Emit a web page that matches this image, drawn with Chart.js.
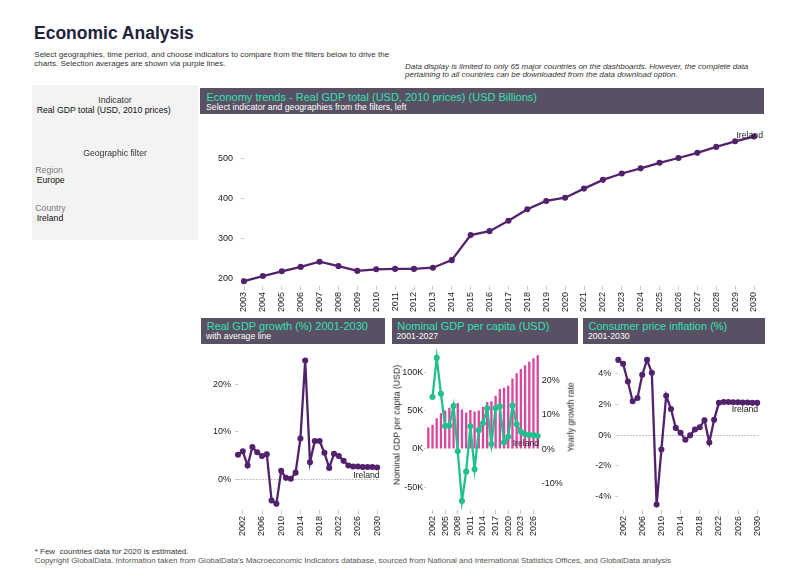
<!DOCTYPE html>
<html><head><meta charset="utf-8">
<script src="https://cdn.jsdelivr.net/npm/chart.js@4.4.1/dist/chart.umd.min.js"></script>
<style>
html,body{margin:0;padding:0;background:#fff;}
body{width:800px;height:588px;position:relative;overflow:hidden;font-family:"Liberation Sans",Arial,Helvetica,sans-serif;}
.t{position:absolute;white-space:pre;line-height:1;}
.box{position:absolute;}
.rot{position:absolute;white-space:pre;line-height:1;transform:translate(-50%,-50%) rotate(-90deg);color:#222;}
canvas{position:absolute;}
</style></head><body>
<div class="box" style="left:32px;top:85px;width:166px;height:155px;background:#f3f3f3;"></div>
<div class="box" style="left:200px;top:88px;width:564px;height:26px;background:#595064;"></div>
<div class="box" style="left:201px;top:318px;width:184px;height:26px;background:#595064;"></div>
<div class="box" style="left:392px;top:318px;width:186px;height:26px;background:#595064;"></div>
<div class="box" style="left:583px;top:318px;width:182px;height:26px;background:#595064;"></div>
<canvas id="cMain" width="570" height="202" style="left:200px;top:114px;width:570px;height:202px;"></canvas>
<canvas id="cGrowth" width="190" height="194" style="left:200px;top:346px;width:190px;height:194px;"></canvas>
<canvas id="cCapita" width="190" height="194" style="left:390px;top:346px;width:190px;height:194px;"></canvas>
<canvas id="cCpi" width="190" height="194" style="left:580px;top:346px;width:190px;height:194px;"></canvas>
<script>
// ---------------- DATA ----------------
const country = 'Ireland';

const gdpYears = ['2003','2004','2005','2006','2007','2008','2009','2010','2011','2012','2013','2014','2015','2016','2017','2018','2019','2020','2021','2022','2023','2024','2025','2026','2027','2028','2029','2030'];
const gdpTotal = [192,205,217,228,241,230,218,222,223,223,226,245,308,318,344,373,394,402,425,447,463,476,490,502,515,530,544,556];
const gdpTicks = [200,300,400,500];

const growthYears = ['2001','2002','2003','2004','2005','2006','2007','2008','2009','2010','2011','2012','2013','2014','2015','2016','2017','2018','2019','2020','2021','2022','2023','2024','2025','2026','2027','2028','2029','2030'];
const gdpGrowth = [5.2,5.9,2.9,6.8,5.7,4.9,5.3,-4.5,-5.2,1.8,0.3,0.1,1.4,8.6,25.1,3.6,8.1,8.1,5.6,2.4,5.4,4.9,3.9,2.9,2.7,2.7,2.6,2.6,2.6,2.5];
const growthTickYears = ['2002','2006','2010','2014','2018','2022','2026','2030'];
const growthTicks = [0,10,20];

const capitaYears = ['2001','2002','2003','2004','2005','2006','2007','2008','2009','2010','2011','2012','2013','2014','2015','2016','2017','2018','2019','2020','2021','2022','2023','2024','2025','2026','2027'];
const gdpPerCapita = [28000,31500,40000,46800,50200,54000,60000,60000,51500,47700,51000,49000,50200,55000,61300,62500,69400,78300,80000,82600,92300,99000,104700,109400,114000,118700,122500];
const capitaGrowth = [null,15.1,26.4,16.0,6.7,6.8,12.5,-0.6,-15.0,-6.5,6.6,-5.8,5.5,7.5,11.8,1.5,11.9,12.4,1.9,3.6,12.6,7.2,5.0,4.3,4.1,4.1,3.8];
const capitaTickYears = ['2002','2005','2008','2011','2014','2017','2020','2023','2026'];
const capitaTicks = [-50000,0,50000,100000];
const capitaRateTicks = [-10,0,10,20];

const cpiYears = growthYears;
const cpi = [4.86,4.61,3.46,2.18,2.39,3.9,4.86,4.03,-4.5,-0.94,2.54,1.68,0.46,0.15,-0.31,-0.02,0.36,0.5,0.96,-0.48,0.98,2.08,2.14,2.14,2.12,2.12,2.1,2.1,2.08,2.08];
const cpiTickYears = growthTickYears;
const cpiTicks = [-4,-2,0,2,4];

// ---------------- TEXT ----------------
const FONT = '"Liberation Sans", Arial, Helvetica, sans-serif';
function txt(str, x, capC, size, o) {
  o = o || {};
  const d = document.createElement('div');
  d.className = 't';
  d.textContent = str;
  d.style.fontSize = size + 'px';
  d.style.top = (capC - 0.488 * size) + 'px';
  d.style.color = o.color || '#222';
  if (o.bold) d.style.fontWeight = 'bold';
  if (o.italic) d.style.fontStyle = 'italic';
  if (o.center) { d.style.left = (x - 200) + 'px'; d.style.width = '400px'; d.style.textAlign = 'center'; }
  else d.style.left = x + 'px';
  document.body.appendChild(d);
}
function rotTxt(str, cx, cy, size) {
  const d = document.createElement('div');
  d.className = 'rot';
  d.textContent = str;
  d.style.fontSize = size + 'px';
  d.style.left = cx + 'px';
  d.style.top = cy + 'px';
  document.body.appendChild(d);
}
txt('Economic Analysis', 34, 33.7, 17.5, {bold:true, color:'#23223a'});
txt('Select geographies, time period, and choose indicators to compare from the filters below to drive the', 34.3, 54.5, 8, {color:'#333'});
txt('charts. Selection averages are shown via purple lines.', 34.3, 64, 8, {color:'#333'});
txt('Data display is limited to only 65 major countries on the dashboards. However, the complete data', 405, 66.8, 8, {italic:true, color:'#333'});
txt('pertaining to all countries can be downloaded from the data download option.', 405, 75.3, 8, {italic:true, color:'#333'});

txt('Indicator', 115, 100.5, 8.7, {center:true, color:'#333'});
txt('Real GDP total (USD, 2010 prices)', 36.7, 110.3, 8.7, {color:'#111'});
txt('Geographic filter', 115, 153.7, 8.7, {center:true, color:'#333'});
txt('Region', 35.3, 170.7, 8.7, {color:'#7a7a7a'});
txt('Europe', 36.7, 180.7, 8.7, {color:'#111'});
txt('Country', 35.3, 208, 8.7, {color:'#7a7a7a'});
txt(country, 36.7, 218.3, 8.7, {color:'#111'});

const TEAL = '#2fe2b2';
txt('Economy trends - Real GDP total (USD, 2010 prices) (USD Billions)', 206.5, 97, 11, {color:TEAL});
txt('Select indicator and geographies from the filters, left', 206, 107.3, 8.7, {color:'#fff'});
txt('Real GDP growth (%) 2001-2030', 206.7, 326, 11, {color:TEAL});
txt('with average line', 206, 336.7, 8.7, {color:'#fff'});
txt('Nominal GDP per capita (USD)', 397.3, 326, 11, {color:TEAL});
txt('2001-2027', 396.5, 336.7, 8.7, {color:'#fff'});
txt('Consumer price inflation (%)', 588.5, 326, 11, {color:TEAL});
txt('2001-2030', 588, 336.7, 8.7, {color:'#fff'});

rotTxt('Nominal GDP per capita (USD)', 397.3, 425, 8.7);
rotTxt('Yearly growth rate', 570.7, 417, 8.7);

txt('* Few  countries data for 2020 is estimated.', 34.7, 551.7, 8, {color:'#333'});
txt("Copyright GlobalData. Information taken from GlobalData's Macroeconomic Indicators database, sourced from National and International Statistics Offices, and GlobalData analysis", 34.7, 560.7, 8, {color:'#555'});

// ---------------- CHARTS ----------------
Chart.defaults.font.family = FONT;
Chart.defaults.font.size = 9;
Chart.defaults.color = '#333';
const PURPLE = '#52226d';
const MAGENTA = '#d8469f';
const GREEN = '#22c08e';
const TICKMARK = '#c8c8c8';

const zeroLine = {
  id: 'zeroLine',
  beforeDatasetsDraw(chart, args, opts) {
    if (!opts || !opts.show) return;
    const y = chart.scales.y.getPixelForValue(0);
    const a = chart.chartArea, ctx = chart.ctx;
    ctx.save();
    ctx.strokeStyle = '#b0b0b0'; ctx.lineWidth = 1; ctx.setLineDash([1.5, 1.5]);
    ctx.beginPath(); ctx.moveTo(a.left, Math.round(y) + 0.5); ctx.lineTo(a.right + 2, Math.round(y) + 0.5); ctx.stroke();
    ctx.restore();
  }
};
const endLabel = {
  id: 'endLabel',
  afterDatasetsDraw(chart, args, opts) {
    if (!opts || !opts.text) return;
    const meta = chart.getDatasetMeta(opts.ds || 0);
    const pt = meta.data[meta.data.length - 1];
    const ctx = chart.ctx;
    ctx.save();
    ctx.font = '8.7px ' + FONT; ctx.fillStyle = '#222';
    ctx.textAlign = 'right'; ctx.textBaseline = 'middle';
    ctx.fillText(opts.text, pt.x + opts.dx, pt.y + opts.dy);
    ctx.restore();
  }
};

function xAxis(keep, extra) {
  return Object.assign({
    offset: false,
    grid: {display: true, drawOnChartArea: false, drawTicks: true, tickLength: 4, color: TICKMARK, offset: false},
    border: {display: false},
    ticks: {autoSkip: false, minRotation: 90, maxRotation: 90, padding: 2, color: '#222'},
    afterBuildTicks: keep ? (s => { const labs = s.getLabels(); s.ticks = s.ticks.filter(t => keep.includes(labs[t.value])); }) : undefined,
    afterFit: s => { s.height = 30; }
  }, extra || {});
}
function yAxis(min, max, tickVals, width, fmt, extra) {
  return Object.assign({
    min: min, max: max,
    grid: {display: true, drawOnChartArea: false, drawTicks: true, tickLength: 3, color: TICKMARK},
    border: {display: false},
    ticks: {padding: 4, color: '#222', callback: fmt},
    afterBuildTicks: s => { s.ticks = tickVals.map(v => ({value: v})); },
    afterFit: s => { s.width = width; }
  }, extra || {});
}
const lineDs = (data, color) => ({type: 'line', data: data, borderColor: color, backgroundColor: color, borderWidth: 2.3,
  pointRadius: 1.9, pointHoverRadius: 0, tension: 0, clip: false});
const base = {responsive: false, animation: false, events: []};

new Chart(document.getElementById('cMain'), {
  type: 'line',
  data: {labels: gdpYears, datasets: [lineDs(gdpTotal, PURPLE)]},
  options: Object.assign({}, base, {
    layout: {padding: {top: 2, right: 16, left: 0, bottom: 0}},
    plugins: {legend: {display: false}, tooltip: {enabled: false}, endLabel: {text: country, ds: 0, dx: 9, dy: -1}},
    scales: {
      x: xAxis(null),
      y: yAxis(180, 579, gdpTicks, 44, v => v, {ticks: {padding: 8, color: '#222', callback: v => v}})
    }
  }),
  plugins: [endLabel]
});

new Chart(document.getElementById('cGrowth'), {
  type: 'line',
  data: {labels: growthYears, datasets: [lineDs(gdpGrowth, PURPLE)]},
  options: Object.assign({}, base, {
    layout: {padding: {top: 4, right: 8.5, left: 0, bottom: 0}},
    plugins: {legend: {display: false}, tooltip: {enabled: false}, zeroLine: {show: true}, endLabel: {text: country, ds: 0, dx: 2.5, dy: 8}},
    scales: {
      x: xAxis(growthTickYears),
      y: yAxis(-6.5, 26.2, growthTicks, 38, v => v + '%')
    }
  }),
  plugins: [zeroLine, endLabel]
});

new Chart(document.getElementById('cCapita'), {
  type: 'bar',
  data: {labels: capitaYears, datasets: [
    Object.assign(lineDs(capitaGrowth, GREEN), {yAxisID: 'y2', order: 0}),
    {type: 'bar', data: gdpPerCapita, backgroundColor: MAGENTA, yAxisID: 'y', order: 1, barPercentage: 0.55, categoryPercentage: 1}
  ]},
  options: Object.assign({}, base, {
    layout: {padding: {top: 4, right: 0, left: 0, bottom: 0}},
    plugins: {legend: {display: false}, tooltip: {enabled: false}, endLabel: {text: country, ds: 0, dx: 1.5, dy: 7.7}},
    scales: {
      x: xAxis(capitaTickYears, {offset: true}),
      y: yAxis(-80000, 125000, capitaTicks, 36.2, v => (v / 1000) + 'K', {
        position: 'left',
        grid: {display: true, drawOnChartArea: false, drawTicks: true, tickLength: 2, color: TICKMARK},
        ticks: {padding: 1, color: '#222', callback: v => (v / 1000) + 'K'}
      }),
      y2: yAxis(-17.6, 27.7, capitaRateTicks, 40.2, v => v + '%', {
        position: 'right',
        grid: {display: false, drawTicks: false, tickLength: 0},
        ticks: {padding: 2, color: '#222', callback: v => v + '%'}
      })
    }
  }),
  plugins: [endLabel]
});

new Chart(document.getElementById('cCpi'), {
  type: 'line',
  data: {labels: cpiYears, datasets: [lineDs(cpi, PURPLE)]},
  options: Object.assign({}, base, {
    layout: {padding: {top: 4, right: 8.7, left: 0, bottom: 0}},
    plugins: {legend: {display: false}, tooltip: {enabled: false}, zeroLine: {show: true}, endLabel: {text: country, ds: 0, dx: 1, dy: 7}},
    scales: {
      x: xAxis(cpiTickYears),
      y: yAxis(-4.85, 5.15, cpiTicks, 38.3, v => v + '%')
    }
  }),
  plugins: [zeroLine, endLabel]
});
</script>
</body></html>
